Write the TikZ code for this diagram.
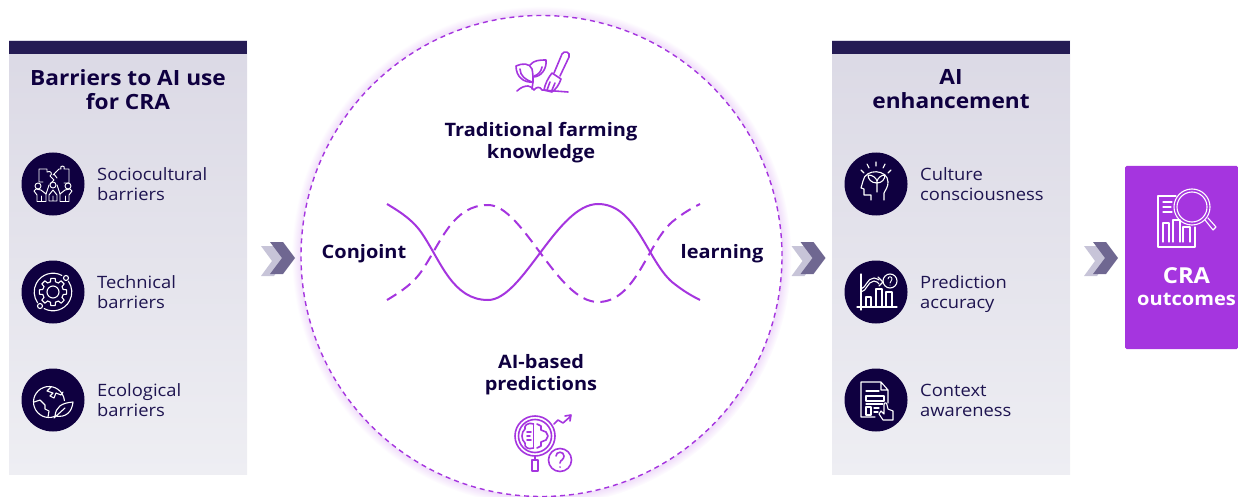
\documentclass[tikz,border=0pt]{standalone}
\usepackage{fontspec}
\setmainfont[FakeStretch=1.08]{Open Sans}
\usetikzlibrary{calc,shadings}
\definecolor{navy}{HTML}{0F0040}
\definecolor{tinkt}{HTML}{1E1450}
\definecolor{purp}{HTML}{A535DF}
\definecolor{panA}{HTML}{DBD9E5}
\definecolor{panB}{HTML}{EEEEF3}
\definecolor{barc}{HTML}{251B54}
\definecolor{chevD}{HTML}{6F6791}
\definecolor{chevL}{HTML}{C7C4D8}
\pgfdeclareradialshading{glow}{\pgfpointorigin}{
  color(0pt)=(white); color(23.6bp)=(white); color(24bp)=(purp!18!white); color(25bp)=(white); color(50bp)=(white)}
\tikzset{
  panel/.style={draw=none,top color=panA,bottom color=panB,minimum width=238pt,minimum height=433pt,inner sep=0pt},
  topbar/.style={fill=barc,draw=none,minimum width=238pt,minimum height=13pt,inner sep=0pt},
  disc/.style={circle,fill=navy,draw=none,minimum size=63pt,inner sep=0pt},
  ttl/.style={font=\fontsize{21}{24}\selectfont\bfseries,text=navy,align=center},
  itm/.style={font=\fontsize{17}{20.5}\selectfont,text=tinkt,align=left,anchor=west,inner sep=0pt},
  ctr/.style={font=\fontsize{18.5}{22}\selectfont\bfseries,text=navy,align=center},
  ic/.style={draw=white,line width=1.1pt,fill=none,line cap=round,line join=round},
  pi/.style={draw=purp,line width=1.6pt,fill=none,line cap=round,line join=round},
  wave/.style={draw=purp,line width=2pt,line cap=butt},
}
\newcommand{\dsc}{\vphantom{gy}}
\newcommand{\chev}[1]{%
  \fill[chevL] ($(#1)+(-16,-11)$) -- ++(13,0) -- ++(11,15) -- ++(-11,15) -- ++(-13,0) -- ++(11,-15) -- cycle;
  \fill[chevD] ($(#1)+(-7,-15)$) -- ++(13,0) -- ++(12,16) -- ++(-12,16) -- ++(-13,0) -- ++(12,-16) -- cycle;
}
\begin{document}
\begin{tikzpicture}[x=1pt,y=-1pt]
\useasboundingbox (0,0) rectangle (1238,497);
% panels
\node[panel] (pL) at (128,257.5) {};
\node[topbar] (bL) at (128,47.5) {};
\node[panel] (pR) at (951,257.5) {};
\node[topbar] (bR) at (951,47.5) {};
\node[ttl] (tL) at (128,89.5) {Barriers to AI use\\for CRA};
\node[ttl] (tR) at (951,89.5) {AI\\enhancement};
% discs
\foreach \n/\x/\y in {d1/53/184,d2/53/292,d3/53/400,e1/876/184,e2/876/292,e3/876/400}
  \node[disc] (\n) at (\x,\y) {};
\node[itm] (i1) at (97,186) {Sociocultural\\barriers\dsc};
\node[itm] (i2) at (97,294) {Technical\\barriers\dsc};
\node[itm] (i3) at (97,402) {Ecological\\barriers\dsc};
\node[itm] (j1) at (920,186) {Culture\\consciousness\dsc};
\node[itm] (j2) at (920,294) {Prediction\\accuracy\dsc};
\node[itm] (j3) at (920,402.5) {Context\\awareness\dsc};
% circle
\shade[shading=glow] (541.5,256) circle (250);
\node[circle,draw=purp,line width=1.4pt,minimum size=481pt,inner sep=0pt,fill=white,dash pattern=on 5pt off 4pt] (C) at (541.5,256) {};
% chevrons
\coordinate (c1) at (277,257);
\coordinate (c2) at (807.5,257);
\coordinate (c3) at (1100,257);
\chev{c1}\chev{c2}\chev{c3}
% outcome box
\node[fill=purp,rounded corners=1.5pt,minimum width=113pt,minimum height=183pt,inner sep=0pt] (O) at (1181.5,257.5) {};
\node[font=\fontsize{22}{24}\selectfont\bfseries,text=white] (o1) at (1186.5,276) {CRA};
\node[font=\fontsize{18.6}{20}\selectfont\bfseries,text=white] (o2) at (1186.5,299) {outcomes};
% centre text
\node[ctr] (k) at (541,143) {Traditional farming\\knowledge};
\node[ctr] (a) at (541,375) {AI-based\\predictions};
\node[ctr] (cj) at (364,254) {Conjoint};
\node[ctr] (lr) at (722,254) {learning};
% waves
\draw[wave] (387,204) .. controls (402,213) and (414,221) .. (423,235) .. controls (441,262) and (453,300) .. (488,300) .. controls (523,300) and (557,204) .. (598,204) .. controls (636,204) and (647,260) .. (672,282) .. controls (682,290) and (690,295) .. (700,300);
\draw[wave,dash pattern=on 11pt off 6.5pt] (387,300) .. controls (402,291) and (414,283) .. (423,269) .. controls (441,242) and (453,205) .. (488,205) .. controls (523,205) and (557,302) .. (598,302) .. controls (636,302) and (647,244) .. (672,222) .. controls (682,214) and (690,209) .. (700,204);
% farm icon
\begin{scope}[shift={(480,40)}]
\draw[pi] (36,26) .. controls (42,23) and (50,23) .. (52,29) .. controls (53,33) and (53,38) .. (53,42) .. controls (44,43) and (36,37) .. (36,26);
\draw[pi] (40,29) .. controls (40,36) and (46,40) .. (52,42);
\draw[pi] (50,25) .. controls (54,20) and (60,20) .. (66,20) .. controls (67,29) and (61,37) .. (53,37);
\draw[pi] (62,27) .. controls (61,32) and (58,35) .. (54,36);
\draw[pi] (53,42) -- (52,49);
\draw[pi] (37,51) .. controls (41,47) and (45,46) .. (48,46) .. controls (51,46) and (52,48) .. (54,50) .. controls (56,47) and (60,46) .. (62,50) -- (88,52);
\draw[pi] (72,33) -- (81,39) .. controls (79,45) and (76,49) .. (72,52) -- (64,50) .. controls (65,44) and (68,38) .. (72,33);
\draw[pi] (70,42) -- (67,50) (75,43) -- (72,50);
\draw[pi] (74,33) -- (82,14) .. controls (84,10) and (91,12) .. (89,17) -- (80,36);
\end{scope}
% AI icon
\begin{scope}[shift={(490,405)}]
\draw[pi] (45,31) circle (20);
\draw[pi] (45,31) circle (16.5);
\draw[pi] (43.5,19) -- (43.5,43);
\draw[pi] (43.5,19) .. controls (37,17) and (34,21) .. (35,24) .. controls (31,27) and (31,35) .. (35,38) .. controls (34,42) and (38,45) .. (43.5,43);
\draw[pi] (37,27) -- (41,27) (37,31) -- (40,31) (37,35) -- (41,35);
\draw[pi] (47,19) -- (51,21) -- (51,25) -- (56,27) -- (58,31) -- (56,35) -- (51,37) -- (51,41) -- (47,43);
\draw[pi] (45,51) -- (45,55);
\draw[pi] (42,55) rectangle (48,66);
\draw[pi] (70,55) circle (11.5);
\draw[pi] (66,51) .. controls (66,46) and (74,46) .. (74,51) .. controls (74,55) and (70,55) .. (70,58) (70,62) -- (70,62.2);
\draw[pi] (64,19) -- (68,15) -- (73,18) -- (81,11) (75,11) -- (81,10) -- (80,16);
\end{scope}
% CRA icon
\begin{scope}[shift={(1070,160)}]
\draw[ic] (106,36) -- (88,36) -- (88,87) -- (125,87) -- (125,67);
\draw[ic] (93,42) -- (102,42) (93,47) -- (101,47) (93,52) -- (102,52);
\draw[ic] (93,82) -- (93,63) -- (99,63) -- (99,82) (103,82) -- (103,60) -- (110,60) -- (110,82) (113,82) -- (113,67) -- (120,67) -- (120,82);
\draw[ic] (122,47) circle (18);
\draw[ic] (122,47) circle (15);
\draw[ic] (135,60) -- (143,70) -- (146,67) -- (138,58);
\end{scope}
% icon 1: puzzle people
\begin{scope}[shift={(20,150)}]
\tikzset{ic/.append style={line width=.95pt}}
\draw[ic] (23,32) -- (19,32) -- (19,19) -- (27,19) -- (27,22) .. controls (31,20) and (33,24) .. (30,26) -- (34,30) -- (30,34);
\draw[ic] (36,22) -- (39,19) -- (41,19) .. controls (39,15) and (46,15) .. (44,19) -- (49,19) -- (49,33) -- (44,33);
\draw[ic] (34,24) -- (37,28) (36,22) -- (33,25);
\draw[ic] (18,36) circle (3) (48,36) circle (3) (33,35) circle (3);
\draw[ic] (17,51) -- (17,45) -- (14,41) -- (16,39) -- (21,40) -- (26,44) (26,51) -- (26,43);
\draw[ic] (17,51) -- (26,51) (21,51) -- (21,46);
\draw[ic] (26,44) -- (29,35) (40,44) -- (37,35);
\draw[ic] (29,51) -- (29,45) -- (33,40) -- (37,45) -- (37,51) -- cycle (33,51) -- (33,46);
\draw[ic] (49,51) -- (49,45) -- (52,41) -- (50,39) -- (45,40) -- (40,44) (40,51) -- (40,43);
\draw[ic] (40,51) -- (49,51) (45,51) -- (45,46);
\end{scope}
% icon 2: gear with orbit
\begin{scope}[shift={(53,292)}]
\draw[ic] (0,0) circle (6);
\foreach \a in {0,45,...,315}{
  \draw[ic] (\a-14:10.5) -- (\a-9:13.8) -- (\a+9:13.8) -- (\a+14:10.5) arc (\a+14:\a+31:10.5);
}
\draw[ic] (0,0) ++(-62:18.8) arc (-62:-215:18.8);
\draw[ic] (0,0) ++(118:18.8) arc (118:-35:18.8);
\draw[ic] (13,-14) circle (2.5);
\draw[ic] (-13,14) circle (2.5);
\end{scope}
% icon 3: globe with leaf
\begin{scope}[shift={(53,400)}]
\draw[ic] (-4,2) ++(58:15.5) arc (58:355:15.5);
\draw[ic] (-2,-13) -- (-6,-9) -- (0,-7) -- (-3,-4) -- (1,-2) -- (3,-7) -- (8,-5) -- (10,-8);
\draw[ic] (-19,2) -- (-13,0) -- (-8,5) -- (-8,9) -- (-4,11) -- (-5,17);
\draw[ic] (2,16) .. controls (3,7) and (8,3) .. (20,2) .. controls (19,12) and (13,18) .. (2,16) -- cycle;
\draw[ic] (1,18) -- (12,8);
\end{scope}
% icon 4: head with plant
\begin{scope}[shift={(876,184)}]
\draw[ic] (12,-2) .. controls (12,-15) and (-11,-16) .. (-13,-3) -- (-15,4) -- (-12,5) -- (-12,11) -- (-5,11) -- (-5,16);
\draw[ic] (8,16) -- (8,9) .. controls (10,5) and (12,3) .. (12,-2);
\draw[ic] (1,8) -- (1,-3) (1,-1) .. controls (-5,-1) and (-8,-5) .. (-8,-9) .. controls (-3,-9) and (0,-6) .. (1,-3) .. controls (2,-6) and (5,-9) .. (9,-9) .. controls (9,-5) and (6,-1) .. (1,-1);
\draw[ic] (0,-22) -- (0,-18) (-9,-20) -- (-7,-16) (9,-20) -- (7,-16) (-15,-14) -- (-12,-11) (15,-14) -- (12,-11);
\end{scope}
% icon 5: chart
\begin{scope}[shift={(876,292)}]
\draw[ic] (-15,-18) -- (-15,18) (-19,15) -- (21,15);
\draw[ic] (-10,15) -- (-10,5) -- (-5,5) -- (-5,15) (0,15) -- (0,-3) -- (6,-3) -- (6,15) (10,15) -- (10,0) -- (16,0) -- (16,15);
\draw[ic] (-15,0) .. controls (-9,-1) and (-9,-10) .. (-2,-11) .. controls (1,-11) and (2,-9) .. (3,-8) (-15,-3) .. controls (-10,-4) and (-9,-14) .. (-2,-14) .. controls (1,-14) and (2,-12) .. (3,-12);
\draw[ic] (3,-6) -- (7,-10) -- (2,-15);
\draw[ic] (14,-11) circle (7);
\draw[ic,line width=.9pt] (12,-13) .. controls (12,-16) and (16,-16) .. (16,-13) .. controls (16,-11) and (14,-11) .. (14,-9) (14,-7) -- (14,-6.8);
\end{scope}
% icon 6: document and hand
\begin{scope}[shift={(876,400)}]
\draw[ic] (-1,17) -- (-15,17) -- (-15,-18) -- (5,-18) -- (12,-10) -- (12,3) (5,-18) -- (5,-10) -- (12,-10);
\draw[ic] (-10,-9) -- (3,-9);
\draw[ic] (-10,-4) rectangle (8,1);
\draw[ic] (-10,4) -- (7,4);
\draw[ic] (-10,7) rectangle (-5,15);
\draw[ic] (-2,8) -- (3,8) (-2,12) -- (2,12);
\draw[ic] (3,14) -- (7,20) -- (17,20) -- (17,11) -- (12,9) -- (11,5) .. controls (11,2) and (8,2) .. (8,5) -- (8,14) -- (5,11) -- cycle;
\end{scope}
\end{tikzpicture}
\end{document}
